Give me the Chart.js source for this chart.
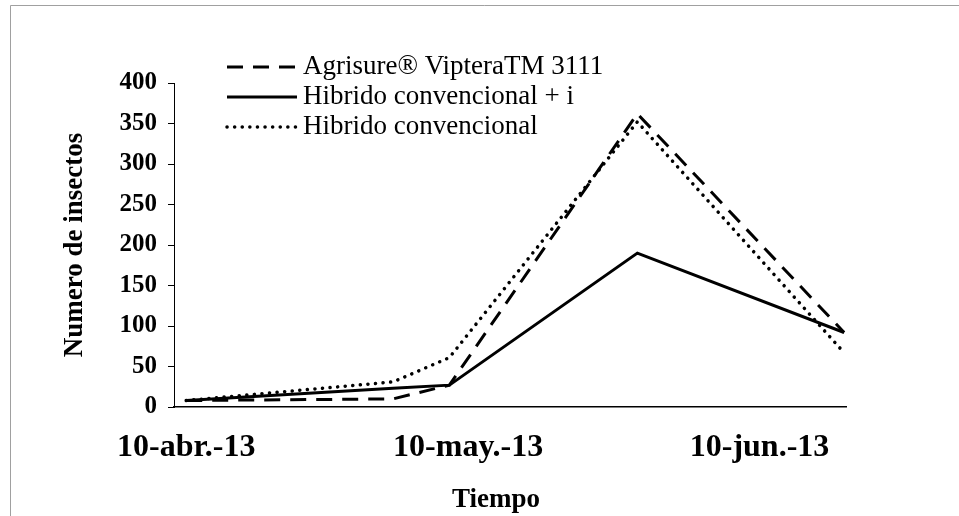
<!DOCTYPE html>
<html>
<head>
<meta charset="utf-8">
<script src="https://cdn.jsdelivr.net/npm/chart.js@4.4.0/dist/chart.umd.min.js"></script>
<style>
  html, body { margin: 0; padding: 0; background: #fff; }
  #wrap { position: relative; width: 959px; height: 516px; }
</style>
</head>
<body>
<div id="wrap"><canvas id="insectChart" width="959" height="516"></canvas></div>
<script>
// fechas de muestreo y conteos
const sampleDates = ['2013-04-10', '2013-05-02', '2013-05-08', '2013-05-28', '2013-06-19'];
const agrisure = [8, 10, 27, 362, 92];
const hibridoI = [8, 23, 27, 190, 92];
const hibrido = [8, 31, 61, 352, 67];
const seriesNames = ['Agrisure® VipteraTM 3111', 'Hibrido convencional + i', 'Hibrido convencional'];

// etiquetas del eje X
const tickDates = ['2013-04-10', '2013-05-10', '2013-06-10'];
const tickLabels = ['10-abr.-13', '10-may.-13', '10-jun.-13'];

const serif = '"Liberation Serif", "Times New Roman", serif';
const dayOf = d => (Date.parse(d) - Date.parse(sampleDates[0])) / 86400000;
const toPoints = vals => vals.map((v, i) => ({ x: dayOf(sampleDates[i]), y: v }));

// marco gris (arriba e izquierda) + fondo blanco
const framePlugin = {
  id: 'frame',
  beforeDraw(chart) {
    const ctx = chart.ctx;
    ctx.save();
    ctx.fillStyle = '#fff';
    ctx.fillRect(0, 0, chart.width, chart.height);
    ctx.strokeStyle = '#a0a0a0';
    ctx.lineWidth = 1;
    ctx.beginPath();
    ctx.moveTo(10.5, chart.height);
    ctx.lineTo(10.5, 5.5);
    ctx.lineTo(chart.width, 5.5);
    ctx.stroke();
    ctx.restore();
  }
};

// leyenda con muestras de linea
const legendPlugin = {
  id: 'lineLegend',
  afterDraw(chart) {
    const ctx = chart.ctx;
    ctx.save();
    ctx.font = '27px ' + serif;
    ctx.textBaseline = 'middle';
    chart.data.datasets.forEach((ds, i) => {
      const y = 67 + i * 30;
      ctx.strokeStyle = ds.borderColor;
      ctx.lineWidth = ds.borderWidth;
      ctx.lineCap = ds.borderCapStyle || 'butt';
      ctx.setLineDash(ds.borderDash || []);
      ctx.beginPath();
      ctx.moveTo(227, y);
      ctx.lineTo(297, y);
      ctx.stroke();
      ctx.fillStyle = '#000';
      ctx.fillText(ds.label, 303, y);
    });
    ctx.restore();
  }
};

// titulo del eje X
const xTitlePlugin = {
  id: 'xTitle',
  afterDraw(chart) {
    const ctx = chart.ctx;
    ctx.save();
    ctx.font = 'bold 27px ' + serif;
    ctx.fillStyle = '#000';
    ctx.textAlign = 'center';
    ctx.textBaseline = 'middle';
    ctx.fillText('Tiempo', 496, 500);
    ctx.restore();
  }
};

new Chart(document.getElementById('insectChart'), {
  type: 'line',
  data: {
    datasets: [
      {
        label: seriesNames[0],
        data: toPoints(agrisure),
        borderColor: '#000',
        borderWidth: 3,
        borderDash: [16, 10],
        pointRadius: 0,
        tension: 0
      },
      {
        label: seriesNames[1],
        data: toPoints(hibridoI),
        borderColor: '#000',
        borderWidth: 3,
        pointRadius: 0,
        tension: 0
      },
      {
        label: seriesNames[2],
        data: toPoints(hibrido),
        borderColor: '#000',
        borderWidth: 3.5,
        borderDash: [0.1, 7.5],
        borderCapStyle: 'round',
        pointRadius: 0,
        tension: 0
      }
    ]
  },
  options: {
    responsive: false,
    animation: false,
    devicePixelRatio: 1,
    layout: { padding: { left: 0, right: 113, top: 83, bottom: 0 } },
    plugins: {
      legend: { display: false },
      tooltip: { enabled: false }
    },
    scales: {
      x: {
        type: 'linear',
        min: -1.3,
        max: 70.2,
        grid: { display: false },
        border: { display: true, color: '#000', width: 1.5 },
        afterBuildTicks: scale => {
          scale.ticks = tickDates.map(d => ({ value: dayOf(d) }));
        },
        afterFit: scale => { scale.height = 109; },
        ticks: {
          autoSkip: false,
          maxRotation: 0,
          padding: 14,
          color: '#000',
          font: { family: serif, size: 32, weight: 'bold' },
          callback: (v, i) => tickLabels[i]
        }
      },
      y: {
        min: 0,
        max: 400,
        grid: { drawOnChartArea: false, drawTicks: true, tickLength: 6, color: '#000' },
        border: { display: true, color: '#000', width: 1 },
        afterFit: scale => { scale.width = 174; },
        ticks: {
          stepSize: 50,
          padding: 11,
          color: '#000',
          font: { family: serif, size: 25, weight: 'bold' }
        },
        title: {
          display: true,
          text: 'Numero de insectos',
          color: '#000',
          padding: { top: 59, bottom: 0 },
          font: { family: serif, size: 27, weight: 'bold' }
        }
      }
    }
  },
  plugins: [framePlugin, legendPlugin, xTitlePlugin]
});
</script>
</body>
</html>
